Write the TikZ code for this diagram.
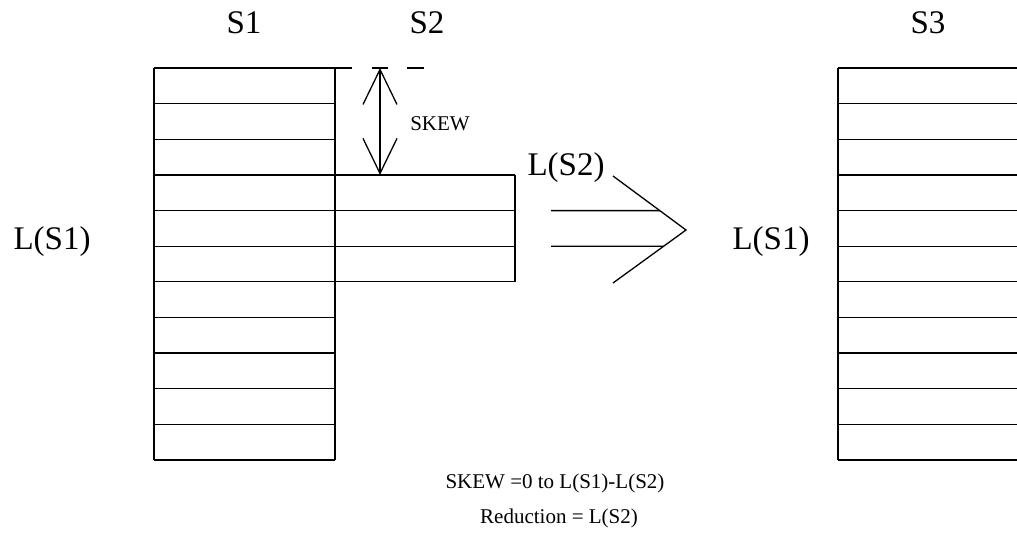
\documentclass[tikz,border=0pt]{standalone}
\usepackage{fontspec}
\setmainfont{Liberation Serif}
\usetikzlibrary{arrows.meta,calc,positioning}
\tikzset{skewtip/.tip={Straight Barb[length=35pt,width=34pt]}}

\begin{document}
\begin{tikzpicture}[x=1pt,y=-1pt,
every node/.style={inner sep=0pt,anchor=base},
big/.style={font=\fontsize{33}{33}\selectfont},
small/.style={font=\fontsize{21}{21}\selectfont},
rule/.style={line width=1.3pt}]
\useasboundingbox (0,0) rectangle (1017,538);
% strips of S1 and S3
\foreach \i in {0,...,11} {
  \draw[rule] (154,68+35.64*\i) -- (335,68+35.64*\i);
  \draw[rule] (838,68+35.64*\i) -- (1020,68+35.64*\i);
}
\draw[rule] (154,68) -- (154,460);
\draw[rule] (335,68) -- (335,460);
\draw[rule] (838,68) -- (838,460);
% strips of S2
\foreach \i in {3,...,6}
  \draw[rule] (335,68+35.64*\i) -- (515,68+35.64*\i);
\draw[rule] (515,174.9) -- (515,281.8);
% top of S2 (dashed on)
\draw[rule] (335,68) -- (352,68);
\draw[rule] (372,68) -- (388,68);
\draw[rule] (407,68) -- (424,68);
% skew arrow
\coordinate (skT) at (380,68);
\coordinate (skB) at (380,174.9);
\draw[rule,skewtip-skewtip] (skT) -- (skB);
% big arrow
\coordinate (chT) at (613,176);
\coordinate (chA) at (686,230);
\coordinate (chB) at (613,283);
\draw[rule] (chT) -- (chA) -- (chB);
\draw[rule] (551,210.6) -- ($(chT)!{(210.6-176)/54}!(chA)$);
\draw[rule] (551,246.2) -- ($(chA)!{(246.2-230)/53}!(chB)$);
% labels
\node[big] (S1) at (244,33) {S1};
\node[big] (S2) at (427,33) {S2};
\node[big] (S3) at (928,33) {S3};
\node[big] (LS1a) at (52,249) {L(S1)};
\node[big] (LS1b) at (771,249) {L(S1)};
\node[big] (LS2) at (566,175) {L(S2)};
\node[small] (skew) at (440,130) {SKEW};
\node[small] (skewnote) at (555,488) {SKEW =0 to L(S1)-L(S2)};
\node[small] (rednote) at (559,523) {Reduction = L(S2)};
\end{tikzpicture}
\end{document}
